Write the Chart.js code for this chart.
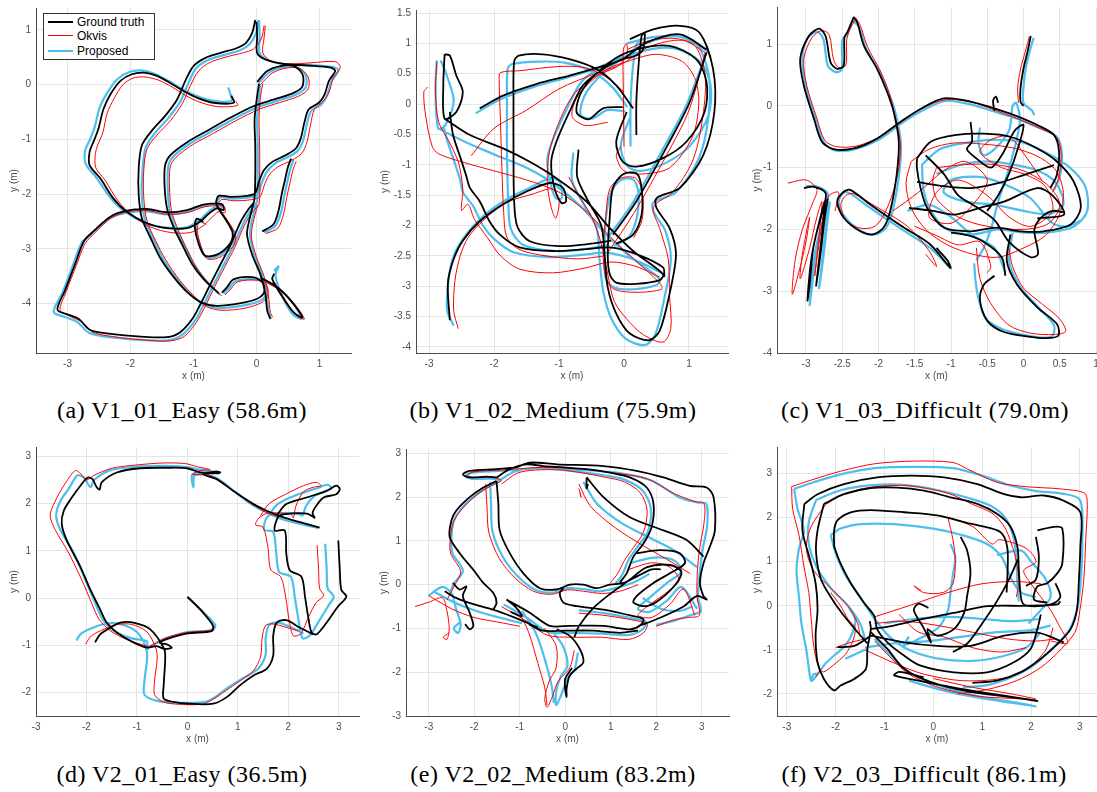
<!DOCTYPE html>
<html>
<head>
<meta charset="utf-8">
<title>Trajectories</title>
<script src="https://cdn.jsdelivr.net/npm/chart.js@4.4.1/dist/chart.umd.min.js"></script>
<style>
  body { margin: 0; width: 1097px; height: 792px; overflow: hidden; background: #fff; position: relative; font-family: "Liberation Sans", Arial, sans-serif; }
  canvas { position: absolute; }
  .caption { position: absolute; font-family: "Liberation Serif", "Times New Roman", serif; font-size: 24px; letter-spacing: 0.5px; color: #000; white-space: nowrap; transform: translate(-50%, -50%); }
  .legend { position: absolute; left: 43px; top: 13px; width: 110px; height: 45px; background: #fff; border: 1px solid #333; font-size: 12px; color: #000; }
  .legend div { position: absolute; left: 4px; width: 104px; height: 14px; line-height: 14px; white-space: nowrap; }
  .legend span.sw { position: absolute; left: 0; top: 6px; width: 25px; }
  .legend span.lb { position: absolute; left: 29px; top: 0; white-space: nowrap; }
</style>
</head>
<body>

<script>
// ---- tick labels ----
const aXTicks = [-3, -2, -1, 0, 1];
const aYTicks = [-4, -3, -2, -1, 0, 1];
const bXTicks = [-3, -2, -1, 0, 1];
const bYTicks = [-4, -3.5, -3, -2.5, -2, -1.5, -1, -0.5, 0, 0.5, 1, 1.5];
const cXTicks = [-3, -2.5, -2, -1.5, -1, -0.5, 0, 0.5, 1];
const cYTicks = [-4, -3, -2, -1, 0, 1];
const dXTicks = [-3, -2, -1, 0, 1, 2, 3];
const dYTicks = [-2, -1, 0, 1, 2, 3];
const eXTicks = [-3, -2, -1, 0, 1, 2, 3];
const eYTicks = [-3, -2, -1, 0, 1, 2, 3];
const fXTicks = [-3, -2, -1, 0, 1, 2, 3];
const fYTicks = [-2, -1, 0, 1, 2, 3];

const seriesNames = ["Ground truth", "Okvis", "Proposed"];
const captions = ["(a) V1_01_Easy (58.6m)", "(b) V1_02_Medium (75.9m)", "(c) V1_03_Difficult (79.0m)",
                  "(d) V2_01_Easy (36.5m)", "(e) V2_02_Medium (83.2m)", "(f) V2_03_Difficult (86.1m)"];

// ---- (a) V1_01_Easy, [x, y] in metres, null = break ----
const aGt = [
  [-0.40,-0.20],[-0.36,-0.33],[-0.68,-0.33],[-0.94,-0.24],[-1.15,-0.12],[-1.37,0.03],[-1.58,0.16],[-1.79,0.22],[-1.98,0.19],[-2.16,0.07],[-2.32,-0.18],[-2.43,-0.45],[-2.51,-0.81],[-2.59,-1.05],[-2.65,-1.23],[-2.65,-1.47],[-2.48,-1.71],[-2.27,-2.08],[-2.06,-2.32],[-1.74,-2.53],[-1.42,-2.62],[-1.10,-2.62],[-0.89,-2.50],[-0.78,-2.38],[-0.63,-2.26],[-0.52,-2.29],[-0.55,-2.18],[-0.84,-2.19],[-1.10,-2.29],[-1.42,-2.33],[-1.74,-2.27],[-2.06,-2.30],[-2.32,-2.41],[-2.59,-2.68],[-2.74,-2.86],[-2.88,-3.28],[-3.04,-3.76],[-3.16,-4.11],[-3.01,-4.19],[-2.82,-4.28],[-2.64,-4.48],[-2.32,-4.55],[-1.84,-4.60],[-1.42,-4.61],[-1.21,-4.52],[-1.02,-4.28],[-0.89,-4.01],[-0.73,-3.64],[-0.57,-3.28],[-0.41,-2.92],[-0.25,-2.50],[-0.12,-2.26],[-0.04,-2.14],[-0.02,-1.65],[-0.02,-1.11],[-0.03,-0.63],[0.01,-0.21],[0.04,0.02], null,
  [-0.04,-2.14],[-0.12,-2.50],[-0.15,-2.74],[-0.07,-3.10],[0.06,-3.46],[0.14,-3.82],[0.17,-4.13],[0.22,-4.28], null,
  [-0.02,1.18],[-0.07,0.94],[-0.17,0.76],[-0.31,0.67],[-0.57,0.58],[-0.81,0.49],[-1.00,0.34],[-1.13,0.07],[-1.26,-0.27],[-1.45,-0.57],[-1.66,-0.84],[-1.82,-1.11],[-1.87,-1.53],[-1.87,-2.01],[-1.82,-2.44],[-1.68,-2.80],[-1.53,-3.16],[-1.31,-3.52],[-1.10,-3.79],[-0.89,-3.97],[-0.63,-4.04],[-0.25,-3.99],[0.01,-3.91],[0.12,-3.79],[0.10,-3.62],[-0.04,-3.52],[-0.36,-3.55],[-0.47,-3.70],[-0.55,-3.80], null,
  [-0.60,-3.81],[-0.84,-3.55],[-1.02,-3.28],[-1.18,-2.92],[-1.31,-2.62],[-1.42,-2.26],[-1.46,-1.83],[-1.45,-1.47],[-1.37,-1.29],[-1.10,-1.05],[-0.78,-0.84],[-0.41,-0.60],[-0.04,-0.39],[0.28,-0.27],[0.59,-0.15],[0.73,-0.03],[0.73,0.19],[0.59,0.34],[0.38,0.34],[0.17,0.25],[0.01,0.05], null,
  [0.00,1.15],[0.01,0.88],[0.01,0.58],[0.14,0.46],[0.43,0.38],[0.81,0.35],[1.18,0.31],[1.25,0.25],[1.15,0.07],[1.08,-0.18],[0.99,-0.33],[0.83,-0.45],[0.76,-0.69],[0.70,-0.99],[0.62,-1.17],[0.46,-1.29],[0.25,-1.41],[0.12,-1.56],[0.04,-1.77],[-0.02,-1.98],[-0.15,-2.03],[-0.41,-2.05],[-0.60,-2.03],[-0.64,-2.17],[-0.57,-2.32],[-0.47,-2.50],[-0.38,-2.70],[-0.42,-2.90],[-0.62,-3.10],[-0.82,-3.12],[-0.92,-2.90],[-0.98,-2.60],[-0.95,-2.45],[-0.85,-2.50], null,
  [0.09,-2.68],[0.27,-2.55],[0.35,-2.30],[0.40,-2.00],[0.45,-1.75],[0.50,-1.50],[0.55,-1.35], null,
  [0.06,-3.52],[0.33,-3.70],[0.54,-3.94],[0.73,-4.25],[0.59,-4.16],[0.38,-3.82],[0.25,-3.55],[0.28,-3.45]
];
const aOkvis = [
  [-0.33,-0.30],[-0.30,-0.38],[-0.62,-0.40],[-0.90,-0.32],[-1.12,-0.20],[-1.33,-0.05],[-1.55,0.08],[-1.77,0.14],[-1.96,0.12],[-2.12,0.00],[-2.26,-0.25],[-2.37,-0.52],[-2.44,-0.88],[-2.52,-1.10],[-2.56,-1.28],[-2.55,-1.52],[-2.40,-1.75],[-2.20,-2.12],[-1.98,-2.38],[-1.68,-2.60],[-1.36,-2.70],[-1.05,-2.70],[-0.85,-2.58],[-0.73,-2.45],[-0.60,-2.32],[-0.50,-2.34],[-0.52,-2.22],[-0.82,-2.23],[-1.08,-2.33],[-1.40,-2.37],[-1.72,-2.30],[-2.04,-2.32],[-2.30,-2.43],[-2.56,-2.70],[-2.72,-2.90],[-2.86,-3.30],[-3.02,-3.78],[-3.12,-4.12],[-2.98,-4.22],[-2.78,-4.33],[-2.60,-4.52],[-2.28,-4.60],[-1.80,-4.66],[-1.38,-4.68],[-1.15,-4.60],[-0.96,-4.35],[-0.82,-4.06],[-0.66,-3.68],[-0.50,-3.32],[-0.34,-2.96],[-0.18,-2.54],[-0.05,-2.30],[0.04,-2.18],[0.05,-1.68],[0.05,-1.14],[0.04,-0.66],[0.06,-0.24],[0.10,0.02], null,
  [0.02,-2.20],[-0.06,-2.55],[-0.08,-2.80],[0.00,-3.15],[0.12,-3.50],[0.19,-3.86],[0.22,-4.16],[0.26,-4.25], null,
  [0.12,1.08],[0.08,0.85],[-0.05,0.65],[-0.22,0.58],[-0.50,0.50],[-0.75,0.40],[-0.92,0.25],[-1.05,-0.02],[-1.18,-0.35],[-1.36,-0.65],[-1.58,-0.92],[-1.74,-1.18],[-1.79,-1.58],[-1.79,-2.05],[-1.74,-2.48],[-1.60,-2.85],[-1.44,-3.20],[-1.22,-3.57],[-1.00,-3.85],[-0.80,-4.05],[-0.55,-4.12],[-0.18,-4.08],[0.08,-3.98],[0.18,-3.84],[0.16,-3.66],[0.02,-3.57],[-0.30,-3.60],[-0.42,-3.75],[-0.50,-3.84], null,
  [-0.55,-3.86],[-0.78,-3.60],[-0.96,-3.33],[-1.12,-2.97],[-1.24,-2.66],[-1.35,-2.30],[-1.38,-1.87],[-1.37,-1.50],[-1.28,-1.33],[-1.02,-1.10],[-0.70,-0.90],[-0.33,-0.66],[0.04,-0.45],[0.36,-0.33],[0.67,-0.21],[0.82,-0.08],[0.82,0.14],[0.68,0.30],[0.46,0.30],[0.25,0.21],[0.06,0.00], null,
  [0.14,1.08],[0.12,0.85],[0.10,0.58],[0.22,0.44],[0.50,0.38],[0.88,0.40],[1.25,0.42],[1.33,0.32],[1.22,0.12],[1.15,-0.14],[1.06,-0.30],[0.92,-0.45],[0.86,-0.72],[0.80,-1.05],[0.72,-1.25],[0.56,-1.38],[0.34,-1.50],[0.20,-1.65],[0.12,-1.85],[0.06,-2.04],[-0.08,-2.10],[-0.36,-2.12],[-0.56,-2.10],[-0.60,-2.23],[-0.52,-2.38],[-0.42,-2.55],[-0.33,-2.75],[-0.37,-2.95],[-0.58,-3.15],[-0.78,-3.18],[-0.88,-2.95],[-0.94,-2.66],[-0.91,-2.50],[-0.80,-2.55], null,
  [0.15,-2.72],[0.34,-2.62],[0.43,-2.36],[0.48,-2.06],[0.53,-1.80],[0.58,-1.55],[0.63,-1.40], null,
  [0.10,-3.58],[0.38,-3.76],[0.60,-4.00],[0.76,-4.28],[0.62,-4.20],[0.42,-3.86],[0.28,-3.60]
];
const aProposed = [
  [-0.45,-0.05],[-0.42,-0.15],[-0.40,-0.30],[-0.70,-0.29],[-0.97,-0.20],[-1.18,-0.08],[-1.40,0.07],[-1.62,0.20],[-1.83,0.26],[-2.02,0.23],[-2.21,0.10],[-2.37,-0.15],[-2.49,-0.42],[-2.57,-0.78],[-2.65,-1.02],[-2.72,-1.20],[-2.71,-1.45],[-2.54,-1.70],[-2.32,-2.06],[-2.10,-2.31],[-1.77,-2.52],[-1.44,-2.61],[-1.12,-2.61],[-0.92,-2.49],[-0.80,-2.36],[-0.66,-2.24],[-0.56,-2.28],[-0.58,-2.18],[-0.86,-2.22],[-1.12,-2.33],[-1.44,-2.37],[-1.76,-2.31],[-2.08,-2.34],[-2.35,-2.45],[-2.62,-2.72],[-2.78,-2.90],[-2.92,-3.32],[-3.08,-3.80],[-3.22,-4.15],[-3.05,-4.24],[-2.85,-4.33],[-2.66,-4.53],[-2.33,-4.61],[-1.84,-4.66],[-1.40,-4.67],[-1.17,-4.56],[-0.97,-4.30],[-0.84,-4.02],[-0.68,-3.65],[-0.52,-3.29],[-0.36,-2.93],[-0.20,-2.51],[-0.07,-2.26],[0.01,-2.13],[0.02,-1.64],[0.02,-1.10],[0.01,-0.62],[0.04,-0.22],[0.06,0.00], null,
  [0.00,-2.18],[-0.08,-2.52],[-0.10,-2.77],[-0.03,-3.12],[0.09,-3.48],[0.16,-3.84],[0.19,-4.14],[0.23,-4.27], null,
  [0.03,1.18],[-0.01,0.93],[-0.11,0.74],[-0.26,0.63],[-0.52,0.54],[-0.77,0.45],[-0.96,0.30],[-1.08,0.03],[-1.21,-0.31],[-1.40,-0.61],[-1.61,-0.88],[-1.76,-1.15],[-1.81,-1.57],[-1.82,-2.04],[-1.77,-2.47],[-1.63,-2.83],[-1.48,-3.19],[-1.26,-3.55],[-1.05,-3.82],[-0.84,-4.00],[-0.58,-4.08],[-0.20,-4.03],[0.05,-3.95],[0.16,-3.82],[0.14,-3.65],[0.00,-3.56],[-0.32,-3.58],[-0.44,-3.72],[-0.52,-3.82], null,
  [-0.58,-3.84],[-0.80,-3.58],[-0.98,-3.30],[-1.14,-2.94],[-1.27,-2.64],[-1.38,-2.28],[-1.41,-1.85],[-1.40,-1.49],[-1.32,-1.31],[-1.05,-1.07],[-0.74,-0.87],[-0.37,-0.63],[0.00,-0.42],[0.32,-0.30],[0.63,-0.18],[0.78,-0.05],[0.78,0.17],[0.64,0.32],[0.42,0.32],[0.21,0.23],[0.03,0.03], null,
  [0.04,1.18],[0.05,0.88],[0.05,0.58],[0.18,0.45],[0.47,0.37],[0.85,0.36],[1.22,0.32],[1.30,0.26],[1.19,0.06],[1.12,-0.20],[1.03,-0.36],[0.87,-0.48],[0.80,-0.72],[0.74,-1.02],[0.66,-1.20],[0.50,-1.32],[0.29,-1.44],[0.16,-1.60],[0.08,-1.80],[0.02,-2.00],[-0.12,-2.06],[-0.38,-2.08],[-0.58,-2.06],[-0.62,-2.20],[-0.55,-2.35],[-0.45,-2.52],[-0.36,-2.72],[-0.40,-2.92],[-0.60,-3.12],[-0.80,-3.15],[-0.90,-2.92],[-0.96,-2.62],[-0.93,-2.47],[-0.83,-2.52], null,
  [0.12,-2.70],[0.30,-2.58],[0.39,-2.33],[0.44,-2.03],[0.49,-1.77],[0.54,-1.52],[0.59,-1.37], null,
  [0.08,-3.55],[0.36,-3.73],[0.57,-3.97],[0.71,-4.27],[0.58,-4.20],[0.40,-3.84],[0.30,-3.48],[0.35,-3.32],[0.28,-3.40]
];

// ---- (b) V1_02_Medium ----
const bGt = [
  [-2.68,-3.56],[-2.71,-2.96],[-2.63,-2.58],[-2.48,-2.25],[-2.22,-1.93],[-1.86,-1.65],[-1.50,-1.44],[-1.14,-1.30],[-0.94,-1.38],[-0.89,-1.60],[-0.96,-1.63],[-1.07,-1.38],[-1.12,-0.95],[-1.04,-0.62],[-0.84,-0.13],[-0.63,0.31],[-0.32,0.58],[-0.02,0.74],[0.19,0.80],[0.29,0.90],[0.32,1.17],[0.27,1.12],[0.22,0.58],[0.19,0.03],[0.19,-0.51], null,
  [-2.76,0.82],[-2.78,0.31],[-2.76,-0.24],[-2.58,-0.13],[-2.48,0.20],[-2.58,0.47],[-2.68,0.80],[-2.76,0.82], null,
  [-2.76,-0.24],[-2.37,-0.51],[-1.86,-0.73],[-1.45,-0.95],[-1.04,-1.22],[-0.58,-1.60],[-0.22,-2.04],[0.14,-2.42],[0.60,-2.80],[0.55,-2.90],[0.19,-2.96],[-0.12,-2.94],[-0.22,-2.80],[-0.25,-2.47],[-0.22,-1.87],[-0.17,-1.38],[-0.02,-1.16],[0.19,-1.14],[0.27,-1.38],[0.27,-1.82],[0.14,-2.15],[-0.12,-2.30], null,
  [-2.68,-0.13],[-2.63,-0.51],[-2.53,-0.84],[-2.43,-1.17],[-2.37,-1.38],[-2.22,-1.60],[-2.07,-1.93],[-1.91,-2.15],[-1.61,-2.36],[-1.09,-2.42],[-0.58,-2.39],[-0.22,-2.36],[0.19,-2.47],[0.60,-2.69],[0.62,-2.85], null,
  [0.14,-0.07],[-0.12,0.31],[-0.43,0.58],[-0.84,0.74],[-1.25,0.82],[-1.62,0.80],[-1.69,0.70],[-1.70,0.03],[-1.70,-0.78],[-1.69,-1.60],[-1.64,-2.02],[-1.45,-2.26],[-1.00,-2.34],[-0.50,-2.30],[-0.20,-2.25], null,
  [0.09,1.07],[0.45,1.23],[0.86,1.29],[1.16,1.18],[1.37,0.58],[1.39,-0.13],[1.22,-0.84],[0.86,-1.38],[0.50,-1.55],[0.50,-1.71],[0.70,-2.04],[0.80,-2.47],[0.70,-3.13],[0.55,-3.73],[0.39,-3.89],[0.09,-3.78],[-0.12,-3.45],[-0.25,-3.02],[-0.30,-2.47],[-0.35,-2.00],[-0.55,-1.60],[-0.72,-1.20],[-0.70,-0.75], null,
  [0.04,-0.13],[-0.12,-0.62],[-0.02,-0.95],[0.19,-1.03],[0.60,-0.89],[0.96,-0.62],[1.24,-0.13],[1.27,0.36],[1.11,0.74],[0.70,0.96],[0.19,0.90],[-0.22,0.69],[-0.63,0.25],[-0.73,-0.13],[-0.55,-0.25],[-0.32,-0.07],[-0.02,-0.05], null,
  [-0.17,-2.15],[0.19,-1.60],[0.70,-0.62],[1.01,0.03],[1.27,0.85], null,
  [-2.22,-0.07],[-1.86,0.14],[-1.35,0.33],[-0.84,0.47],[-0.32,0.63],[-0.02,0.74],[0.34,1.01],[0.86,1.15],[1.27,0.90]
];
const bOkvis = [
  [-2.55,-3.70],[-2.62,-3.40],[-2.60,-2.90],[-2.52,-2.50],[-2.40,-2.20],[-2.15,-1.90],[-1.80,-1.62],[-1.40,-1.48],[-1.10,-1.40],[-1.00,-1.60],[-1.05,-1.88],[-1.12,-1.70],[-1.18,-1.30],[-1.15,-0.80],[-1.00,-0.30],[-0.78,0.15],[-0.45,0.45],[-0.10,0.62],[0.04,0.80],[0.04,1.00],[-0.01,0.90],[-0.01,0.20],[0.00,-0.70], null,
  [-3.02,0.28],[-3.08,0.20],[-3.05,-0.20],[-2.95,-0.70],[-2.85,-0.82],[-2.50,-0.95],[-2.00,-1.10],[-1.50,-1.25],[-1.00,-1.45],[-0.55,-1.80],[-0.20,-2.20],[0.20,-2.60],[0.55,-2.95],[0.58,-3.05],[0.20,-3.10],[-0.15,-3.05],[-0.28,-2.85],[-0.32,-2.45],[-0.28,-1.85],[-0.22,-1.40],[-0.05,-1.22],[0.18,-1.22],[0.28,-1.45],[0.28,-1.90],[0.15,-2.20], null,
  [-2.88,0.70],[-2.90,0.20],[-2.85,-0.30],[-2.70,-0.60],[-2.55,-0.95],[-2.48,-1.40],[-2.50,-1.75],[-2.40,-1.65],[-2.30,-1.90],[-2.10,-2.20],[-1.90,-2.50],[-1.60,-2.72],[-1.10,-2.78],[-0.60,-2.70],[-0.20,-2.60],[0.20,-2.68],[0.55,-2.85], null,
  [0.00,0.20],[-0.28,0.45],[-0.60,0.60],[-1.00,0.62],[-1.60,0.55],[-1.90,0.52],[-1.92,0.40],[-1.90,-0.30],[-1.88,-1.00],[-1.85,-1.80],[-1.80,-2.20],[-1.60,-2.40],[-1.20,-2.50],[-0.70,-2.55],[-0.30,-2.50], null,
  [0.05,0.90],[0.40,1.05],[0.80,1.08],[1.10,0.95],[1.25,0.45],[1.20,-0.30],[1.05,-0.95],[0.75,-1.45],[0.45,-1.70],[0.55,-2.05],[0.68,-2.55],[0.70,-3.15],[0.72,-3.70],[0.60,-3.92],[0.30,-3.80],[0.05,-3.55],[-0.15,-3.25],[-0.25,-2.80],[-0.35,-2.30],[-0.50,-1.85],[-0.70,-1.50],[-0.85,-1.20], null,
  [-0.05,-0.70],[-0.12,-0.85],[0.00,-1.10],[0.30,-1.15],[0.70,-1.05],[1.05,-0.55],[1.15,0.00],[1.10,0.40],[0.90,0.70],[0.50,0.82],[0.10,0.72],[-0.30,0.55],[-0.70,0.15],[-0.80,-0.20],[-0.60,-0.35],[-0.25,-0.30], null,
  [-0.25,-2.45],[0.15,-1.80],[0.65,-0.85],[1.00,-0.10],[1.25,0.85], null,
  [-2.35,-0.85],[-2.00,-0.40],[-1.50,-0.10],[-1.00,0.25],[-0.45,0.50],[-0.05,0.65],[0.40,0.95],[0.90,1.05],[1.25,0.85]
];
const bProposed = [
  [-2.62,-3.65],[-2.72,-3.40],[-2.70,-2.90],[-2.62,-2.50],[-2.45,-2.18],[-2.18,-1.86],[-1.82,-1.58],[-1.45,-1.38],[-1.12,-1.22],[-0.98,-1.30],[-0.96,-1.55],[-1.05,-1.55],[-1.13,-1.30],[-1.18,-0.90],[-1.08,-0.55],[-0.88,-0.08],[-0.66,0.36],[-0.35,0.62],[-0.05,0.76],[0.10,0.82],[0.22,1.02],[0.18,0.95],[0.12,0.40],[0.10,-0.10],[0.10,-0.70], null,
  [-2.88,0.72],[-2.90,0.25],[-2.86,-0.40],[-2.75,-0.35],[-2.62,0.05],[-2.72,0.45],[-2.82,0.72], null,
  [-2.86,-0.40],[-2.45,-0.62],[-1.95,-0.85],[-1.50,-1.05],[-1.10,-1.30],[-0.65,-1.70],[-0.30,-2.12],[0.08,-2.50],[0.55,-2.88],[0.50,-2.98],[0.15,-3.05],[-0.15,-3.02],[-0.28,-2.88],[-0.30,-2.50],[-0.28,-1.90],[-0.20,-1.45],[-0.05,-1.25],[0.14,-1.24],[0.22,-1.45],[0.20,-1.85],[0.08,-2.18],[-0.15,-2.34], null,
  [-2.78,-0.35],[-2.72,-0.60],[-2.62,-0.92],[-2.52,-1.25],[-2.48,-1.45],[-2.32,-1.68],[-2.17,-2.00],[-2.00,-2.22],[-1.70,-2.44],[-1.15,-2.52],[-0.62,-2.48],[-0.25,-2.45],[0.15,-2.56],[0.58,-2.78], null,
  [0.05,-0.05],[-0.18,0.28],[-0.50,0.54],[-0.90,0.68],[-1.30,0.70],[-1.72,0.66],[-1.79,0.58],[-1.80,0.00],[-1.80,-0.80],[-1.78,-1.62],[-1.74,-2.06],[-1.55,-2.32],[-1.05,-2.42],[-0.55,-2.38],[-0.25,-2.32], null,
  [0.05,1.00],[0.42,1.10],[0.80,1.12],[1.10,1.02],[1.30,0.50],[1.30,-0.20],[1.15,-0.90],[0.80,-1.45],[0.45,-1.62],[0.46,-1.78],[0.64,-2.10],[0.72,-2.55],[0.62,-3.20],[0.48,-3.80],[0.32,-3.97],[0.02,-3.86],[-0.20,-3.52],[-0.32,-3.08],[-0.38,-2.52],[-0.42,-2.05],[-0.62,-1.65],[-0.80,-1.25],[-0.78,-0.80], null,
  [0.10,-0.20],[-0.05,-0.68],[0.05,-1.02],[0.26,-1.10],[0.66,-0.96],[1.02,-0.68],[1.30,-0.18],[1.33,0.32],[1.17,0.70],[0.76,0.92],[0.25,0.86],[-0.16,0.65],[-0.57,0.21],[-0.67,-0.17],[-0.49,-0.24],[-0.26,-0.10],[0.02,-0.12], null,
  [-0.25,-2.20],[0.12,-1.65],[0.64,-0.66],[0.96,-0.02],[1.28,0.88], null,
  [-2.28,-0.15],[-1.90,0.08],[-1.40,0.28],[-0.90,0.43],[-0.38,0.60],[-0.05,0.72],[0.30,0.98],[0.82,1.12],[1.28,0.88]
];

// ---- (c) V1_03_Difficult ----
const cGt = [
  [-2.34,1.44],[-2.43,1.19],[-2.47,1.11],[-2.48,0.65],[-2.57,0.60],[-2.66,0.70],[-2.73,1.13],[-2.82,1.25],[-2.96,1.13],[-3.08,0.76],[-3.03,0.33],[-2.89,-0.21],[-2.78,-0.58],[-2.62,-0.70],[-2.34,-0.69],[-2.02,-0.53],[-1.70,-0.26],[-1.42,-0.05],[-1.10,0.12],[-0.73,0.07],[-0.46,-0.02],[-0.13,-0.15],[0.19,-0.31],[0.42,-0.47],[0.49,-0.74],[0.46,-1.12],[0.37,-1.33], null,
  [-2.34,1.44],[-2.29,1.34],[-2.20,0.97],[-2.02,0.60],[-1.88,0.22],[-1.79,-0.10],[-1.72,-0.58],[-1.75,-1.12],[-1.84,-1.71],[-1.93,-1.97],[-2.07,-2.08],[-2.25,-2.03],[-2.48,-1.81],[-2.57,-1.55],[-2.48,-1.39],[-2.39,-1.36],[-2.11,-1.60],[-1.65,-1.97],[-1.29,-2.24],[-1.01,-2.62],[-1.05,-2.50],[-1.20,-2.30], null,
  [-3.03,-1.33],[-2.89,-1.31],[-2.73,-1.41],[-2.76,-1.66],[-2.86,-2.08],[-2.93,-2.51],[-2.98,-3.15],[-2.95,-2.90],[-2.90,-2.30],[-2.80,-1.80],[-2.74,-1.55],[-2.78,-2.08],[-2.84,-2.70],[-2.86,-2.91],[-2.80,-2.40],[-2.74,-1.80],[-2.70,-1.50], null,
  [-1.47,-0.85],[-1.28,-0.58],[-0.92,-0.47],[-0.55,-0.45],[-0.18,-0.50],[0.19,-0.69],[0.46,-0.90],[0.69,-1.22],[0.79,-1.65],[0.65,-1.92],[0.28,-2.03],[-0.04,-2.03],[-0.37,-1.97],[-0.73,-2.03],[-1.10,-1.97],[-1.33,-1.65],[-1.42,-1.33],[-1.47,-1.01],[-1.47,-0.85], null,
  [-0.18,-2.08],[-0.23,-2.51],[-0.09,-2.89],[0.19,-3.26],[0.46,-3.53],[0.48,-3.72],[0.30,-3.76],[0.10,-3.74],[-0.27,-3.66],[-0.50,-3.48],[-0.60,-3.15],[-0.55,-2.90],[-0.40,-2.75], null,
  [-1.47,-1.23],[-1.10,-1.30],[-0.73,-1.33],[-0.35,-1.25],[0.00,-1.12],[0.42,-0.96], null,
  [-1.58,-1.65],[-1.25,-1.70],[-0.96,-1.76],[-0.60,-1.65],[-0.27,-1.55],[0.19,-1.33],[0.40,-1.45],[0.56,-1.76],[0.19,-1.82], null,
  [-0.73,-0.26],[-0.71,-0.58],[-0.78,-0.70],[-0.65,-0.85],[-0.45,-1.00],[-0.30,-0.80],[-0.12,-0.40],[0.00,-0.31],[-0.08,-0.70],[-0.20,-1.10],[-0.35,-1.45],[-0.50,-1.70], null,
  [-1.35,-0.80],[-1.10,-1.10],[-0.90,-1.45],[-0.70,-1.60],[-0.40,-1.85],[-0.20,-2.20],[0.10,-2.45],[0.20,-2.40],[0.15,-2.00],[0.25,-1.80],[0.40,-1.70],[0.55,-1.72], null,
  [-1.00,-2.05],[-0.75,-2.10],[-0.55,-2.20],[-0.30,-2.45],[-0.25,-2.75], null,
  [0.10,1.13],[0.06,0.90],[0.00,0.60],[-0.04,0.30],[-0.04,0.06],[0.00,0.00], null,
  [-0.40,-0.08],[-0.42,0.08],[-0.38,0.15],[-0.35,0.05]
];
const cOkvis = [
  [-2.31,1.42],[-2.40,1.22],[-2.44,1.05],[-2.45,0.66],[-2.55,0.62],[-2.62,0.75],[-2.68,1.15],[-2.78,1.22],[-2.92,1.10],[-3.03,0.76],[-2.99,0.33],[-2.85,-0.20],[-2.74,-0.56],[-2.58,-0.66],[-2.30,-0.65],[-1.98,-0.50],[-1.66,-0.24],[-1.40,-0.04],[-1.08,0.10],[-0.72,0.06],[-0.44,-0.05],[-0.10,-0.20],[0.22,-0.36],[0.46,-0.52],[0.52,-0.80],[0.48,-1.18],[0.40,-1.40], null,
  [-2.31,1.42],[-2.25,1.30],[-2.15,0.95],[-1.98,0.58],[-1.85,0.20],[-1.78,-0.12],[-1.70,-0.60],[-1.72,-1.00],[-1.80,-1.40],[-1.92,-1.75],[-2.05,-1.95],[-2.25,-1.98],[-2.45,-1.85],[-2.52,-1.60],[-2.45,-1.45],[-2.35,-1.42],[-2.05,-1.62],[-1.60,-1.95],[-1.30,-2.35],[-1.20,-2.60],[-1.35,-2.40], null,
  [-3.25,-1.25],[-3.00,-1.20],[-2.85,-1.35],[-2.90,-1.55],[-3.05,-2.00],[-3.15,-2.50],[-3.19,-3.05],[-3.10,-2.70],[-3.00,-2.20],[-2.95,-1.80],[-3.05,-2.40],[-3.08,-2.80],[-2.95,-2.30],[-2.85,-1.80],[-2.78,-1.55],[-2.82,-2.10],[-2.88,-2.75],[-2.84,-2.40],[-2.75,-1.70],[-2.68,-1.45],[-2.55,-1.40],[-2.60,-1.70], null,
  [-1.55,-0.90],[-1.30,-0.70],[-0.95,-0.60],[-0.55,-0.62],[-0.15,-0.68],[0.20,-0.82],[0.45,-1.05],[0.55,-1.40],[0.50,-1.75],[0.30,-2.10],[0.00,-2.30],[-0.35,-2.45],[-0.70,-2.40],[-1.05,-2.25],[-1.35,-2.00],[-1.55,-1.65],[-1.62,-1.25],[-1.55,-0.90], null,
  [-0.65,-2.30],[-0.60,-2.80],[-0.45,-3.20],[-0.20,-3.55],[0.10,-3.68],[0.42,-3.70],[0.58,-3.65],[0.50,-3.45],[0.25,-3.20],[0.00,-2.95],[-0.15,-2.60],[-0.20,-2.30], null,
  [-1.80,-1.70],[-1.45,-1.40],[-1.10,-1.05],[-0.80,-0.90],[-0.50,-1.20],[-0.70,-1.60],[-1.00,-1.90],[-1.30,-1.80],[-1.20,-1.40],[-0.90,-1.20],[-0.50,-1.45],[-0.20,-1.80],[0.10,-1.95],[0.40,-1.70],[0.30,-1.30],[0.00,-1.10],[-0.30,-1.00],[-0.60,-0.75],[-0.45,-0.55],[-0.20,-0.50],[0.05,-0.85],[0.25,-1.20], null,
  [-1.50,-1.95],[-1.20,-2.10],[-0.90,-2.25],[-0.60,-2.20],[-0.45,-2.60],[-0.50,-2.70], null,
  [0.08,1.12],[0.03,0.90],[-0.04,0.60],[-0.08,0.30],[-0.07,0.05], null,
  [-1.20,-1.00],[-0.80,-0.95],[-0.40,-0.95],[0.00,-1.05],[0.35,-1.30],[0.50,-1.60],[0.35,-1.90],[0.00,-2.00],[-0.50,-1.95],[-0.90,-1.80],[-1.20,-1.50],[-1.25,-1.20],[-1.20,-1.00]
];
const cProposed = [
  [-2.36,1.38],[-2.44,1.15],[-2.50,1.06],[-2.51,0.58],[-2.60,0.55],[-2.70,0.65],[-2.76,1.08],[-2.85,1.20],[-2.99,1.08],[-3.05,0.74],[-3.00,0.30],[-2.86,-0.24],[-2.75,-0.60],[-2.60,-0.72],[-2.32,-0.70],[-2.00,-0.55],[-1.68,-0.28],[-1.40,-0.08],[-1.08,0.08],[-0.72,0.02],[-0.44,-0.08],[-0.11,-0.20],[0.22,-0.36],[0.46,-0.50],[0.53,-0.78],[0.50,-1.15],[0.42,-1.36], null,
  [-2.36,1.38],[-2.27,1.28],[-2.17,0.92],[-1.99,0.56],[-1.85,0.18],[-1.76,-0.14],[-1.69,-0.62],[-1.72,-1.15],[-1.81,-1.72],[-1.90,-1.98],[-2.05,-2.08],[-2.25,-2.02],[-2.45,-1.82],[-2.55,-1.58],[-2.50,-1.42],[-2.42,-1.40],[-2.13,-1.64],[-1.65,-2.02],[-1.29,-2.30],[-1.00,-2.63],[-1.05,-2.55], null,
  [-3.00,-1.30],[-2.86,-1.30],[-2.70,-1.42],[-2.73,-1.70],[-2.83,-2.12],[-2.90,-2.55],[-2.95,-3.22],[-2.92,-2.95],[-2.86,-2.35],[-2.76,-1.82],[-2.70,-1.58],[-2.74,-2.10],[-2.80,-2.75],[-2.82,-2.95],[-2.76,-2.45],[-2.70,-1.82],[-2.67,-1.55], null,
  [-1.40,-0.95],[-1.15,-0.70],[-0.80,-0.60],[-0.45,-0.55],[-0.05,-0.58],[0.30,-0.75],[0.62,-0.98],[0.85,-1.30],[0.88,-1.70],[0.70,-1.95],[0.35,-2.05],[0.00,-2.05],[-0.35,-2.00],[-0.70,-2.08],[-1.05,-2.00],[-1.28,-1.70],[-1.38,-1.35],[-1.40,-0.95], null,
  [-0.15,-2.05],[-0.20,-2.50],[-0.05,-2.92],[0.22,-3.28],[0.42,-3.55],[0.40,-3.72],[0.25,-3.75],[0.05,-3.72],[-0.28,-3.62],[-0.52,-3.44],[-0.62,-3.12],[-0.66,-2.85],[-0.68,-2.55], null,
  [-1.20,-1.10],[-0.85,-0.95],[-0.50,-0.90],[-0.15,-0.95],[0.20,-1.05],[0.45,-1.25],[0.55,-1.60],[0.35,-1.75],[0.00,-1.70],[-0.40,-1.60],[-0.80,-1.55],[-1.10,-1.40],[-1.00,-1.20],[-0.60,-1.15],[-0.20,-1.30],[0.10,-1.50],[0.40,-1.90],[0.60,-1.95],[0.80,-1.85], null,
  [-0.60,-0.35],[-0.62,-0.60],[-0.55,-0.80],[-0.40,-0.70],[-0.20,-0.40],[-0.15,0.00],[-0.10,0.05],[-0.05,-0.25],[-0.15,-0.80],[-0.25,-1.20],[-0.35,-1.55],[-0.45,-2.00],[-0.55,-2.30],[-0.65,-2.50], null,
  [-1.60,-1.70],[-1.30,-1.60],[-1.00,-1.80],[-0.70,-2.10],[-0.40,-2.30],[-0.25,-2.70], null,
  [0.14,1.10],[0.09,0.90],[0.03,0.60],[0.00,0.30],[0.00,0.05],[0.12,-0.08],[0.15,-0.15]
];

// ---- (d) V2_01_Easy ----
const dGt = [
  [0.00,0.02],[0.25,-0.24],[0.51,-0.59],[0.48,-0.70],[0.00,-0.75],[-0.41,-0.87],[-0.55,-0.95],[-0.41,-0.98],[-0.31,-1.05],[-0.45,-1.08],[-0.61,-1.02],[-0.80,-1.05],[-1.07,-0.94],[-1.40,-0.73],[-1.60,-0.52],[-1.73,-0.24],[-1.92,0.17],[-2.12,0.66],[-2.39,1.22],[-2.49,1.57],[-2.45,1.85],[-2.29,2.13],[-2.12,2.38],[-1.98,2.55],[-1.88,2.52],[-1.80,2.35],[-1.74,2.30],[-1.70,2.45],[-1.40,2.66],[-0.94,2.75],[-0.41,2.76],[-0.01,2.75],[0.25,2.66],[0.51,2.64],[0.65,2.66],[0.55,2.68],[0.32,2.62],[0.58,2.52],[0.91,2.27],[1.31,1.99],[1.57,1.85],[1.90,1.71],[2.23,1.61],[2.62,1.49], null,
  [1.77,1.75],[1.96,1.99],[2.36,2.13],[2.76,2.27],[2.95,2.38],[3.02,2.31],[2.95,2.20],[2.70,2.13],[2.55,1.95],[2.48,1.80],[2.52,1.70],[2.40,1.78],[2.20,1.80],[1.95,1.78],[1.80,1.72],[1.73,1.43],[1.93,1.43],[1.96,0.94],[2.03,0.59],[2.26,0.45],[2.33,0.03],[2.39,-0.38],[2.46,-0.73],[2.56,-0.77],[2.76,-0.52],[2.99,-0.17],[3.15,0.03],[3.05,0.17],[3.02,0.59],[2.99,1.22], null,
  [2.49,-0.77],[2.23,-0.63],[1.96,-0.47],[1.77,-0.52],[1.70,-0.80],[1.70,-1.22],[1.57,-1.50],[1.31,-1.64],[1.04,-1.85],[0.78,-2.10],[0.51,-2.24],[0.05,-2.24],[-0.28,-2.20],[-0.47,-2.13],[-0.47,-1.85],[-0.44,-1.29],[-0.46,-1.08],[-0.74,-0.66],[-1.07,-0.52],[-1.33,-0.52],[-1.53,-0.63],[-1.73,-0.77],[-1.83,-0.94]
];
const dOkvis = [
  [0.02,0.02],[0.26,-0.23],[0.50,-0.58],[0.46,-0.68],[-0.02,-0.73],[-0.45,-0.85],[-0.75,-1.02],[-0.92,-0.98],[-1.20,-0.88],[-1.52,-0.70],[-1.75,-0.45],[-1.90,-0.10],[-2.10,0.40],[-2.35,0.95],[-2.62,1.45],[-2.72,1.75],[-2.62,2.05],[-2.45,2.38],[-2.22,2.70],[-2.10,2.62],[-2.00,2.50],[-1.85,2.60],[-1.50,2.75],[-1.00,2.82],[-0.50,2.86],[-0.05,2.85],[0.20,2.78],[0.45,2.72],[0.25,2.70],[0.10,2.62],[0.45,2.60],[0.80,2.35],[1.20,2.05],[1.50,1.85],[1.80,1.72], null,
  [1.45,1.75],[1.62,2.00],[1.95,2.20],[2.30,2.38],[2.55,2.45],[2.65,2.38],[2.50,2.35],[2.30,2.25],[2.15,1.95],[2.10,1.70],[2.05,1.78],[1.85,1.80],[1.60,1.80],[1.42,1.70],[1.35,1.55],[1.50,1.50],[1.60,1.05],[1.65,0.60],[1.85,0.45],[1.95,0.00],[2.02,-0.50],[2.10,-0.80],[2.25,-0.75],[2.40,-0.40],[2.55,-0.10],[2.70,0.05],[2.62,0.20],[2.60,0.60],[2.57,1.12], null,
  [2.20,-0.70],[1.95,-0.62],[1.70,-0.55],[1.55,-0.58],[1.48,-0.85],[1.45,-1.25],[1.30,-1.55],[1.05,-1.75],[0.78,-1.95],[0.50,-2.15],[0.30,-2.25],[-0.20,-2.25],[-0.48,-2.20],[-0.65,-2.05],[-0.65,-1.75],[-0.60,-1.30],[-0.62,-1.08],[-0.80,-0.72],[-1.10,-0.56],[-1.40,-0.56],[-1.65,-0.66],[-1.90,-0.80],[-2.02,-0.98]
];
const dProposed = [
  [0.00,0.03],[0.27,-0.25],[0.55,-0.57],[0.50,-0.68],[0.00,-0.72],[-0.40,-0.85],[-0.70,-1.00],[-0.82,-1.10],[-0.80,-0.92],[-1.12,-0.85],[-1.48,-0.68],[-1.68,-0.45],[-1.83,-0.10],[-2.02,0.38],[-2.25,0.95],[-2.52,1.45],[-2.60,1.75],[-2.52,2.05],[-2.35,2.32],[-2.18,2.60],[-2.05,2.55],[-1.92,2.35],[-1.85,2.50],[-1.55,2.70],[-1.05,2.78],[-0.50,2.80],[-0.05,2.78],[0.25,2.72],[0.50,2.68],[0.10,2.62],[0.12,2.35],[0.15,2.60],[0.55,2.56],[0.88,2.30],[1.25,2.00],[1.55,1.82],[1.85,1.68],[2.20,1.58],[2.60,1.48], null,
  [1.60,1.74],[1.80,2.00],[2.15,2.18],[2.55,2.32],[2.78,2.40],[2.85,2.32],[2.70,2.25],[2.50,2.15],[2.35,1.95],[2.28,1.75],[2.20,1.78],[2.00,1.80],[1.75,1.78],[1.58,1.72],[1.52,1.45],[1.70,1.40],[1.76,0.95],[1.82,0.55],[2.05,0.45],[2.13,0.00],[2.20,-0.45],[2.28,-0.85],[2.42,-0.80],[2.60,-0.50],[2.80,-0.15],[2.90,0.03],[2.78,0.20],[2.76,0.60],[2.73,1.15], null,
  [2.30,-0.75],[2.05,-0.62],[1.80,-0.52],[1.62,-0.57],[1.55,-0.85],[1.55,-1.20],[1.40,-1.50],[1.10,-1.70],[0.80,-1.90],[0.55,-2.10],[0.35,-2.20],[-0.15,-2.22],[-0.60,-2.18],[-0.85,-2.05],[-0.85,-1.75],[-0.80,-1.30],[-0.82,-1.05],[-1.00,-0.72],[-1.30,-0.56],[-1.60,-0.54],[-1.85,-0.62],[-2.10,-0.75],[-2.20,-0.90]
];

// ---- (e) V2_02_Medium ----
const eGt = [
  [-1.51,2.45],[-1.22,2.64],[-0.85,2.75],[-0.48,2.71],[-0.04,2.68],[0.47,2.64],[0.98,2.56],[1.42,2.45],[1.79,2.22],[1.94,1.85],[1.90,1.32],[1.72,0.94],[1.50,0.64],[1.35,0.26],[1.20,0.05], null,
  [-1.51,2.37],[-1.47,1.85],[-1.44,1.24],[-1.22,0.72],[-0.92,0.26],[-0.56,-0.08],[-0.19,-0.11],[0.10,0.00],[0.40,0.00],[0.69,-0.08],[0.98,0.00],[1.28,0.04],[1.60,0.20],[1.90,0.35],[2.10,0.35], null,
  [-1.58,-0.57],[-1.51,-0.41],[-1.58,-0.19],[-1.80,0.04],[-2.02,0.34],[-2.32,0.72],[-2.54,1.09],[-2.50,1.47],[-2.39,1.70],[-2.10,2.00],[-1.80,2.22],[-1.51,2.37], null,
  [-1.51,2.45],[-1.73,2.47],[-2.10,2.45],[-2.25,2.52],[-2.10,2.60],[-1.51,2.64],[-1.07,2.68], null,
  [-1.07,2.68],[-0.78,2.79],[-0.19,2.75],[0.84,2.71],[1.57,2.60],[2.16,2.45],[2.74,2.26],[3.11,2.22],[3.26,2.00],[3.29,1.24],[3.18,0.87],[3.04,0.49],[2.96,0.04],[3.04,-0.26],[3.11,-0.34],[2.89,-0.26],[2.60,-0.50],[2.10,-0.75],[1.60,-0.95], null,
  [0.47,2.45],[0.84,2.00],[1.42,1.54],[2.16,1.24],[2.67,1.02],[3.04,0.64], null,
  [-1.29,-0.34],[-0.78,-0.64],[-0.34,-0.94],[0.10,-0.94],[0.84,-0.94],[1.42,-1.02],[1.64,-0.94],[1.72,-0.79],[1.50,-0.72],[0.84,-0.57],[0.25,-0.49],[-0.04,-0.41],[-0.12,-0.19],[-0.04,-0.08], null,
  [-0.80,-0.90],[-0.50,-1.05],[0.00,-1.05],[0.60,-1.05],[1.20,-1.10],[1.60,-1.05], null,
  [-0.19,-1.02],[0.10,-1.17],[0.32,-1.47],[0.40,-1.77],[0.25,-1.92],[0.10,-2.07],[0.03,-2.37],[0.03,-2.56],[0.00,-2.40],[0.00,-2.15],[0.15,-1.90], null,
  [1.57,0.72],[2.08,0.79],[2.52,0.72],[2.63,0.49],[2.30,0.26],[1.94,0.04],[1.57,-0.26],[1.50,-0.41],[1.79,-0.49],[2.08,-0.34],[2.45,0.04],[2.55,0.30],[2.30,0.45],[1.80,0.40],[1.40,0.10],[1.00,-0.20],[0.60,-0.55],[0.30,-0.95],[0.20,-1.20], null,
  [-2.47,0.04],[-2.32,-0.11],[-2.17,-0.04],[-2.25,-0.26],[-2.10,-0.64],[-2.02,-0.94],[-2.10,-1.02],[-2.20,-0.90], null,
  [-2.65,-0.15],[-2.40,-0.30],[-2.00,-0.45],[-1.50,-0.60],[-1.00,-0.80],[-0.60,-0.98], null,
  [-1.29,-0.34],[-1.10,-0.50],[-0.95,-0.72],[-1.20,-0.62], null,
  [0.47,2.45],[0.47,2.20],[0.50,2.30]
];
const eOkvis = [
  [-1.40,2.30],[-1.05,2.55],[-0.65,2.62],[-0.10,2.62],[0.40,2.55],[0.90,2.45],[1.30,2.35],[1.65,2.10],[1.80,1.70],[1.72,1.20],[1.50,0.85],[1.30,0.55],[1.15,0.25],[1.00,0.05], null,
  [-1.75,2.30],[-1.72,1.80],[-1.68,1.20],[-1.45,0.60],[-1.10,0.15],[-0.70,-0.15],[-0.30,-0.22],[0.05,-0.12],[0.40,-0.15],[0.80,-0.20],[1.20,-0.15],[1.60,0.00], null,
  [-2.60,-0.35],[-2.45,-0.05],[-2.30,0.30],[-2.52,0.72],[-2.52,1.10],[-2.45,1.45],[-2.25,1.75],[-1.95,2.05],[-1.65,2.25],[-1.40,2.38],[-1.60,2.45],[-2.00,2.45],[-2.15,2.50],[-2.00,2.58],[-1.40,2.62],[-1.00,2.65], null,
  [-1.00,2.65],[-0.50,2.68],[0.30,2.65],[1.10,2.55],[1.80,2.42],[2.40,2.08],[2.85,1.90],[3.05,1.85],[3.05,1.40],[2.95,0.80],[2.90,0.20],[2.90,-0.30],[2.95,-0.70],[2.70,-0.75],[2.40,-0.80],[2.00,-0.95], null,
  [0.30,2.30],[0.55,1.80],[1.10,1.30],[1.70,0.90],[2.20,0.60],[2.75,0.25], null,
  [-1.40,-0.50],[-0.90,-0.80],[-0.40,-1.15],[0.10,-1.20],[0.80,-1.20],[1.40,-1.25],[1.72,-1.10],[1.80,-0.90],[1.55,-0.82],[0.85,-0.70],[0.30,-0.65], null,
  [-0.45,-1.00],[-0.20,-1.40],[-0.20,-1.90],[-0.35,-2.20],[-0.45,-2.60],[-0.40,-2.80],[-0.30,-2.60],[-0.15,-2.20],[0.10,-1.90],[0.20,-1.50], null,
  [-1.05,-0.55],[-0.80,-1.10],[-0.60,-1.80],[-0.45,-2.35],[-0.40,-2.75], null,
  [-3.30,-0.50],[-3.00,-0.40],[-2.70,-0.30],[-2.60,-0.60],[-2.55,-1.00],[-2.60,-1.25],[-2.68,-1.20],[-2.55,-1.10], null,
  [-3.00,-0.25],[-2.50,-0.55],[-2.00,-0.75],[-1.50,-0.85],[-1.00,-0.95], null,
  [1.40,0.35],[1.90,0.50],[2.30,0.40],[2.50,0.10],[2.20,-0.20],[1.80,-0.50],[1.60,-0.70],[1.90,-0.75],[2.30,-0.45],[2.60,-0.10],[2.85,-0.70], null,
  [0.30,2.20],[0.35,2.00],[0.32,2.10]
];
const eProposed = [
  [-1.45,2.38],[-1.12,2.58],[-0.75,2.66],[-0.20,2.64],[0.30,2.58],[0.85,2.50],[1.30,2.40],[1.70,2.15],[1.88,1.75],[1.82,1.22],[1.60,0.88],[1.40,0.58],[1.25,0.22],[1.10,0.02], null,
  [-1.65,2.35],[-1.63,1.82],[-1.60,1.22],[-1.38,0.65],[-1.05,0.20],[-0.65,-0.12],[-0.25,-0.18],[0.05,-0.08],[0.40,-0.10],[0.75,-0.15],[1.10,-0.08],[1.50,0.05],[1.85,0.25], null,
  [-2.55,-0.25],[-2.45,0.02],[-2.25,0.32],[-2.48,0.72],[-2.50,1.10],[-2.45,1.45],[-2.30,1.72],[-2.02,2.00],[-1.72,2.22],[-1.45,2.38],[-1.65,2.42],[-2.05,2.42],[-2.20,2.48],[-2.05,2.56],[-1.45,2.60],[-1.00,2.63], null,
  [-1.00,2.63],[-0.55,2.66],[0.40,2.62],[1.20,2.55],[1.90,2.38],[2.50,2.00],[2.90,1.88],[3.10,1.85],[3.12,1.35],[3.02,0.80],[2.95,0.20],[2.92,-0.30],[2.98,-0.60],[2.75,-0.70],[2.40,-0.82],[2.00,-0.92], null,
  [0.40,2.35],[0.70,1.85],[1.25,1.40],[1.90,1.05],[2.40,0.78],[2.90,0.40], null,
  [-1.35,-0.45],[-0.85,-0.75],[-0.38,-1.08],[0.10,-1.10],[0.80,-1.12],[1.40,-1.15],[1.70,-1.02],[1.78,-0.85],[1.52,-0.78],[0.85,-0.65],[0.30,-0.58], null,
  [-0.30,-1.05],[-0.05,-1.40],[0.05,-1.85],[-0.10,-2.10],[-0.20,-2.45],[-0.20,-2.75],[-0.10,-2.55],[0.05,-2.15],[0.20,-1.95],[0.28,-1.55], null,
  [-0.95,-0.60],[-0.65,-1.10],[-0.45,-1.70],[-0.30,-2.30],[-0.25,-2.70], null,
  [-3.00,-0.25],[-2.70,-0.05],[-2.50,-0.20],[-2.40,-0.55],[-2.30,-0.90],[-2.35,-1.10],[-2.45,-1.00],[-2.30,-0.85], null,
  [-2.90,-0.15],[-2.45,-0.40],[-1.95,-0.60],[-1.45,-0.75],[-0.95,-0.88], null,
  [1.45,0.50],[1.95,0.62],[2.40,0.55],[2.55,0.30],[2.25,0.05],[1.85,-0.30],[1.60,-0.55],[1.85,-0.62],[2.25,-0.35],[2.55,-0.05],[2.90,-0.55], null,
  [1.70,-0.30],[2.10,-0.55],[2.50,-0.60],[2.80,-0.50]
];

// ---- (f) V2_03_Difficult ----
const fGt = [
  [-2.64,2.31],[-2.37,2.53],[-1.83,2.76],[-1.15,2.91],[-0.46,2.95],[0.22,2.91],[0.90,2.76],[1.45,2.53],[1.79,2.46],[2.26,2.50],[2.67,2.38],[3.01,2.12],[3.01,1.34],[2.98,0.59],[2.94,-0.08],[2.81,-0.53],[2.54,-0.87],[2.20,-1.20],[1.80,-1.50],[1.30,-1.70],[0.80,-1.75], null,
  [-2.64,2.31],[-2.68,1.71],[-2.54,1.11],[-2.41,0.51],[-2.37,-0.08],[-2.41,-0.68],[-2.37,-1.28],[-2.24,-1.66],[-2.03,-1.92],[-1.90,-1.81],[-1.62,-1.66],[-1.38,-1.43],[-1.35,-0.98],[-1.28,-0.53],[-1.30,-0.35], null,
  [-2.24,2.31],[-1.83,2.53],[-1.28,2.67],[-0.74,2.68],[-0.19,2.61],[0.35,2.46],[0.90,2.31],[1.31,2.08],[1.58,1.79],[1.72,1.34],[1.75,0.81],[1.79,0.21],[1.85,0.03],[2.13,-0.01],[2.47,0.06],[2.60,0.21],[2.50,0.51], null,
  [-2.24,2.31],[-2.37,1.71],[-2.40,1.20],[-2.30,0.60],[-2.10,0.20],[-1.85,-0.20],[-1.55,-0.60],[-1.35,-0.85], null,
  [-2.03,1.34],[-2.03,1.71],[-1.96,1.94],[-1.69,2.12],[-1.28,2.17],[-0.60,2.12],[0.08,2.05],[0.76,1.86],[1.31,1.71],[1.45,1.56],[1.52,1.26],[1.52,0.80],[1.50,0.30], null,
  [-2.03,1.34],[-1.90,0.96],[-1.69,0.51],[-1.42,0.07],[-1.21,-0.23],[-1.15,-0.53],[-0.94,-0.83],[-0.60,-1.13],[-0.26,-1.36],[0.42,-1.51],[1.10,-1.51],[1.65,-1.28],[1.99,-0.98],[2.13,-0.53],[2.20,-0.20], null,
  [-1.28,-0.60],[-0.94,-0.98],[-0.60,-1.43],[-0.05,-1.73],[0.76,-1.95],[1.58,-2.07],[2.13,-2.16],[1.80,-2.10],[1.10,-1.98],[0.40,-1.85],[-0.30,-1.70],[-0.80,-1.58],[-0.70,-1.50],[-0.20,-1.62], null,
  [-1.28,-0.53],[-0.87,-0.46],[-0.26,-0.31],[0.42,-0.16],[1.10,-0.01],[1.85,0.00],[2.54,0.03],[2.60,0.10], null,
  [-1.28,-0.68],[-0.60,-0.83],[0.08,-0.91],[0.76,-0.91],[1.45,-0.68],[2.13,-0.61],[2.67,-0.83], null,
  [0.56,1.56],[0.69,1.26],[0.76,0.74],[0.69,0.21],[0.63,-0.16],[0.42,-0.53],[0.08,-0.68],[-0.12,-0.53],[-0.05,-0.83],[-0.20,-0.50],[-0.40,-0.10],[-0.30,0.05],[-0.10,-0.05], null,
  [1.75,1.10],[1.55,0.60],[1.30,0.10],[1.00,-0.40],[0.70,-0.85],[0.40,-1.05], null,
  [2.13,1.71],[2.47,1.79],[2.64,1.75],[2.64,0.96],[2.54,0.74],[2.33,0.51],[2.13,0.44],[2.06,0.14],[2.33,0.07], null,
  [2.10,1.56],[2.16,1.11],[2.10,0.60],[1.90,0.45], null,
  [-1.96,-0.94],[-1.62,-0.91],[-1.28,-0.68]
];
const fOkvis = [
  [-2.90,2.70],[-2.50,2.85],[-1.90,3.05],[-1.20,3.22],[-0.40,3.28],[0.40,3.25],[0.70,3.10],[1.30,2.80],[1.90,2.70],[2.60,2.65],[3.10,2.55],[3.15,2.30],[3.12,1.50],[3.08,0.60],[3.00,-0.10],[2.90,-0.60],[2.60,-1.00],[2.20,-1.40],[1.70,-1.70],[1.10,-1.90],[0.50,-2.00], null,
  [-2.90,2.70],[-2.88,2.20],[-2.75,1.60],[-2.65,0.90],[-2.55,0.30],[-2.50,-0.30],[-2.45,-0.90],[-2.35,-1.40],[-2.25,-1.50],[-2.05,-1.35],[-1.80,-1.10],[-1.65,-0.80],[-1.60,-0.50],[-1.75,-0.30],[-1.90,0.00],[-2.10,0.30], null,
  [-2.20,2.30],[-1.80,2.55],[-1.20,2.70],[-0.50,2.72],[0.30,2.55],[0.80,2.30],[1.20,2.10],[1.45,1.80],[1.60,1.40],[1.70,1.00],[1.75,0.55],[1.70,0.20], null,
  [-2.20,2.30],[-2.50,1.80],[-2.60,1.30],[-2.45,0.80],[-2.10,0.40],[-1.75,0.00],[-1.55,-0.40],[-1.50,-0.70], null,
  [0.30,2.00],[0.40,1.50],[0.45,1.00],[0.40,0.50],[0.20,0.30],[-0.20,0.30],[-0.40,0.45],[-0.25,0.35], null,
  [0.30,2.00],[0.80,1.80],[1.20,1.40],[1.35,1.50],[1.90,1.30],[2.10,1.00],[1.85,0.80],[2.00,0.50],[2.20,0.20],[2.40,-0.10],[2.60,-0.50],[2.75,-0.85],[2.40,-0.80], null,
  [-1.20,-0.25],[-0.50,0.00],[0.30,0.30],[1.00,0.50],[1.70,0.55],[2.20,0.50], null,
  [-1.40,-1.00],[-0.80,-1.30],[-0.20,-1.55],[0.60,-1.70],[1.40,-1.65],[1.90,-1.45],[2.30,-1.00],[2.45,-0.50], null,
  [-1.20,-0.80],[-0.90,-1.15],[-0.50,-1.55],[0.10,-1.85],[0.90,-2.05],[1.60,-2.10],[2.10,-2.12],[1.60,-2.00],[0.80,-1.85],[0.00,-1.65], null,
  [-1.20,-0.40],[-0.60,-0.35],[0.10,-0.45],[0.80,-0.60],[1.50,-0.75],[2.10,-0.80],[2.50,-0.75], null,
  [-0.70,-0.20],[-0.30,-0.60],[0.20,-0.70],[0.80,-0.95],[1.40,-1.05],[1.90,-0.95], null,
  [-2.00,-0.95],[-1.75,-0.85],[-1.40,-0.75], null,
  [-2.40,-1.60],[-2.30,-1.45]
];
const fProposed = [
  [-2.85,2.65],[-2.45,2.80],[-1.90,2.98],[-1.20,3.12],[-0.40,3.15],[0.40,3.12],[1.00,2.95],[1.50,2.75],[2.10,2.60],[2.60,2.55],[3.00,2.40],[3.05,1.50],[3.02,0.60],[2.95,-0.05],[2.78,-0.55],[2.45,-0.95],[2.05,-1.35],[1.60,-1.62],[1.10,-1.80],[0.60,-1.85], null,
  [-2.85,2.65],[-2.78,2.20],[-2.65,1.70],[-2.75,1.30],[-2.80,0.80],[-2.75,0.20],[-2.70,-0.40],[-2.60,-1.00],[-2.55,-1.40],[-2.50,-1.70],[-2.40,-1.60],[-2.20,-1.30],[-2.00,-1.10],[-1.80,-0.90],[-1.65,-0.60],[-1.60,-0.30],[-1.75,0.00], null,
  [-2.40,2.40],[-1.90,2.62],[-1.30,2.73],[-0.60,2.74],[0.10,2.62],[0.70,2.45],[1.20,2.25],[1.50,1.95],[1.65,1.50],[1.70,1.00],[1.72,0.50],[1.75,0.10], null,
  [-2.40,2.40],[-2.55,1.90],[-2.55,1.40],[-2.40,0.90],[-2.10,0.40],[-1.75,0.00],[-1.50,-0.40],[-1.40,-0.75], null,
  [-2.10,1.60],[-1.90,1.75],[-1.50,1.85],[-0.80,1.85],[0.00,1.75],[0.60,1.60],[1.10,1.40],[1.40,1.10],[1.60,0.60],[1.80,0.30],[2.10,0.20], null,
  [-2.10,1.60],[-2.00,1.20],[-1.80,0.70],[-1.50,0.20],[-1.20,-0.30],[-0.90,-0.70],[-0.50,-1.00],[0.10,-1.20],[0.80,-1.25],[1.40,-1.15],[1.90,-0.95],[2.20,-0.60], null,
  [-1.20,-0.75],[-0.90,-1.10],[-0.50,-1.50],[0.10,-1.80],[0.90,-2.05],[1.60,-2.18],[2.10,-2.28],[1.60,-2.20],[0.90,-2.08],[0.20,-1.92],[-0.50,-1.70], null,
  [-1.40,-0.95],[-0.80,-0.85],[-0.10,-0.80],[0.60,-0.70],[1.30,-0.60],[2.00,-0.55],[2.40,-0.45], null,
  [-1.00,-0.40],[-0.40,-0.30],[0.30,-0.25],[1.00,-0.30],[1.60,-0.35],[2.20,-0.30], null,
  [0.35,1.40],[0.45,1.10],[0.40,0.70],[0.35,0.30],[0.30,-0.10],[0.10,-0.50],[-0.30,-0.75],[-0.60,-0.90],[-0.50,-0.70], null,
  [1.30,1.15],[1.80,1.25],[2.00,1.00],[2.30,0.60],[2.40,0.20],[2.20,-0.10],[1.95,-0.40], null,
  [-2.50,-1.70],[-2.45,-1.55],[-2.35,-1.55], null,
  [-1.40,-1.00],[-1.80,-1.20]
];

// ---- layout: plot box [left, top, right, bottom] in px, axis ranges ----
const panels = [
  { box: [36, 5, 351, 353],     yW: 32, xr: [-3.5, 1.5],  yr: [-4.9, 1.4],  xt: aXTicks, yt: aYTicks, data: [aGt, aOkvis, aProposed] },
  { box: [416, 7, 728, 353],    yW: 41, xr: [-3.2, 1.6],  yr: [-4.1, 1.55], xt: bXTicks, yt: bYTicks, data: [bGt, bOkvis, bProposed] },
  { box: [777, 4, 1096, 353],   yW: 30, xr: [-3.4, 1.0],  yr: [-4, 1.6],    xt: cXTicks, yt: cYTicks, data: [cGt, cOkvis, cProposed] },
  { box: [36, 444, 359, 716],   yW: 32, xr: [-3, 3.4],    yr: [-2.5, 3.2],  xt: dXTicks, yt: dYTicks, data: [dGt, dOkvis, dProposed] },
  { box: [406, 446, 729, 716],  yW: 32, xr: [-3.5, 3.6],  yr: [-3, 3.1],    xt: eXTicks, yt: eYTicks, data: [eGt, eOkvis, eProposed] },
  { box: [777, 444, 1097, 716], yW: 30, xr: [-3.2, 3.35], yr: [-2.5, 3.6],  xt: fXTicks, yt: fYTicks, data: [fGt, fOkvis, fProposed] }
];
const captionPos = [[182, 410], [553, 410], [925, 410], [182, 774], [553, 774], [924, 774]];

const colors = ["#000000", "#ff0000", "#4dbeee"];
const widths = [1.8, 1, 2.2];
const axisColor = "#4d4d4d";
const PAD_T = 8, PAD_R = 12, X_H = 33;

function toPoints(arr) {
  return arr.map(p => p ? { x: p[0], y: p[1] } : { x: null, y: null });
}

function makeChart(p) {
  const [L, T, R, B] = p.box;
  const canvas = document.createElement("canvas");
  const w = R - L + p.yW + PAD_R;
  const h = B - T + PAD_T + X_H;
  canvas.width = w;
  canvas.height = h;
  canvas.style.left = (L - p.yW) + "px";
  canvas.style.top = (T - PAD_T) + "px";
  canvas.style.width = w + "px";
  canvas.style.height = h + "px";
  document.body.appendChild(canvas);

  const tickFont = { family: "'Liberation Sans', Arial, sans-serif", size: 10 };

  new Chart(canvas.getContext("2d"), {
    type: "scatter",
    data: {
      datasets: p.data.map((d, i) => ({
        label: seriesNames[i],
        data: toPoints(d),
        showLine: true,
        borderColor: colors[i],
        borderWidth: widths[i],
        pointRadius: 0,
        tension: 0.3,
        spanGaps: false
      }))
    },
    options: {
      responsive: false,
      animation: false,
      devicePixelRatio: 1,
      events: [],
      layout: { padding: { top: PAD_T, right: PAD_R, left: 0, bottom: 0 } },
      plugins: { legend: { display: false }, tooltip: { enabled: false } },
      scales: {
        x: {
          type: "linear", min: p.xr[0], max: p.xr[1],
          afterBuildTicks: s => { s.ticks = p.xt.map(v => ({ value: v })); },
          afterFit: s => { s.height = X_H; },
          grid: { color: "#e5e5e5", drawTicks: false },
          border: { color: axisColor, width: 1 },
          ticks: { color: axisColor, font: tickFont, padding: 5, maxRotation: 0, autoSkip: false, callback: v => String(v) },
          title: { display: true, text: "x (m)", color: axisColor, font: tickFont, padding: { top: 0, bottom: 4 } }
        },
        y: {
          type: "linear", min: p.yr[0], max: p.yr[1],
          afterBuildTicks: s => { s.ticks = p.yt.map(v => ({ value: v })); },
          afterFit: s => { s.width = p.yW; },
          grid: { color: "#e5e5e5", drawTicks: false },
          border: { color: axisColor, width: 1 },
          ticks: { color: axisColor, font: tickFont, padding: 5, autoSkip: false, callback: v => String(v) },
          title: { display: true, text: "y (m)", color: axisColor, font: tickFont, padding: { top: 4, bottom: 0 } }
        }
      }
    }
  });
}

panels.forEach(makeChart);

captions.forEach((txt, i) => {
  const el = document.createElement("div");
  el.className = "caption";
  el.textContent = txt;
  el.style.left = captionPos[i][0] + "px";
  el.style.top = captionPos[i][1] + "px";
  document.body.appendChild(el);
});

// legend inside panel (a)
const legend = document.createElement("div");
legend.className = "legend";
seriesNames.forEach((name, i) => {
  const row = document.createElement("div");
  row.style.top = (0.5 + i * 14.5) + "px";
  row.innerHTML = '<span class="sw"></span><span class="lb"></span>';
  row.querySelector(".sw").style.borderTop = Math.round(widths[i]) + "px solid " + colors[i];
  row.querySelector(".lb").textContent = name;
  legend.appendChild(row);
});
document.body.appendChild(legend);
</script>
</body>
</html>
